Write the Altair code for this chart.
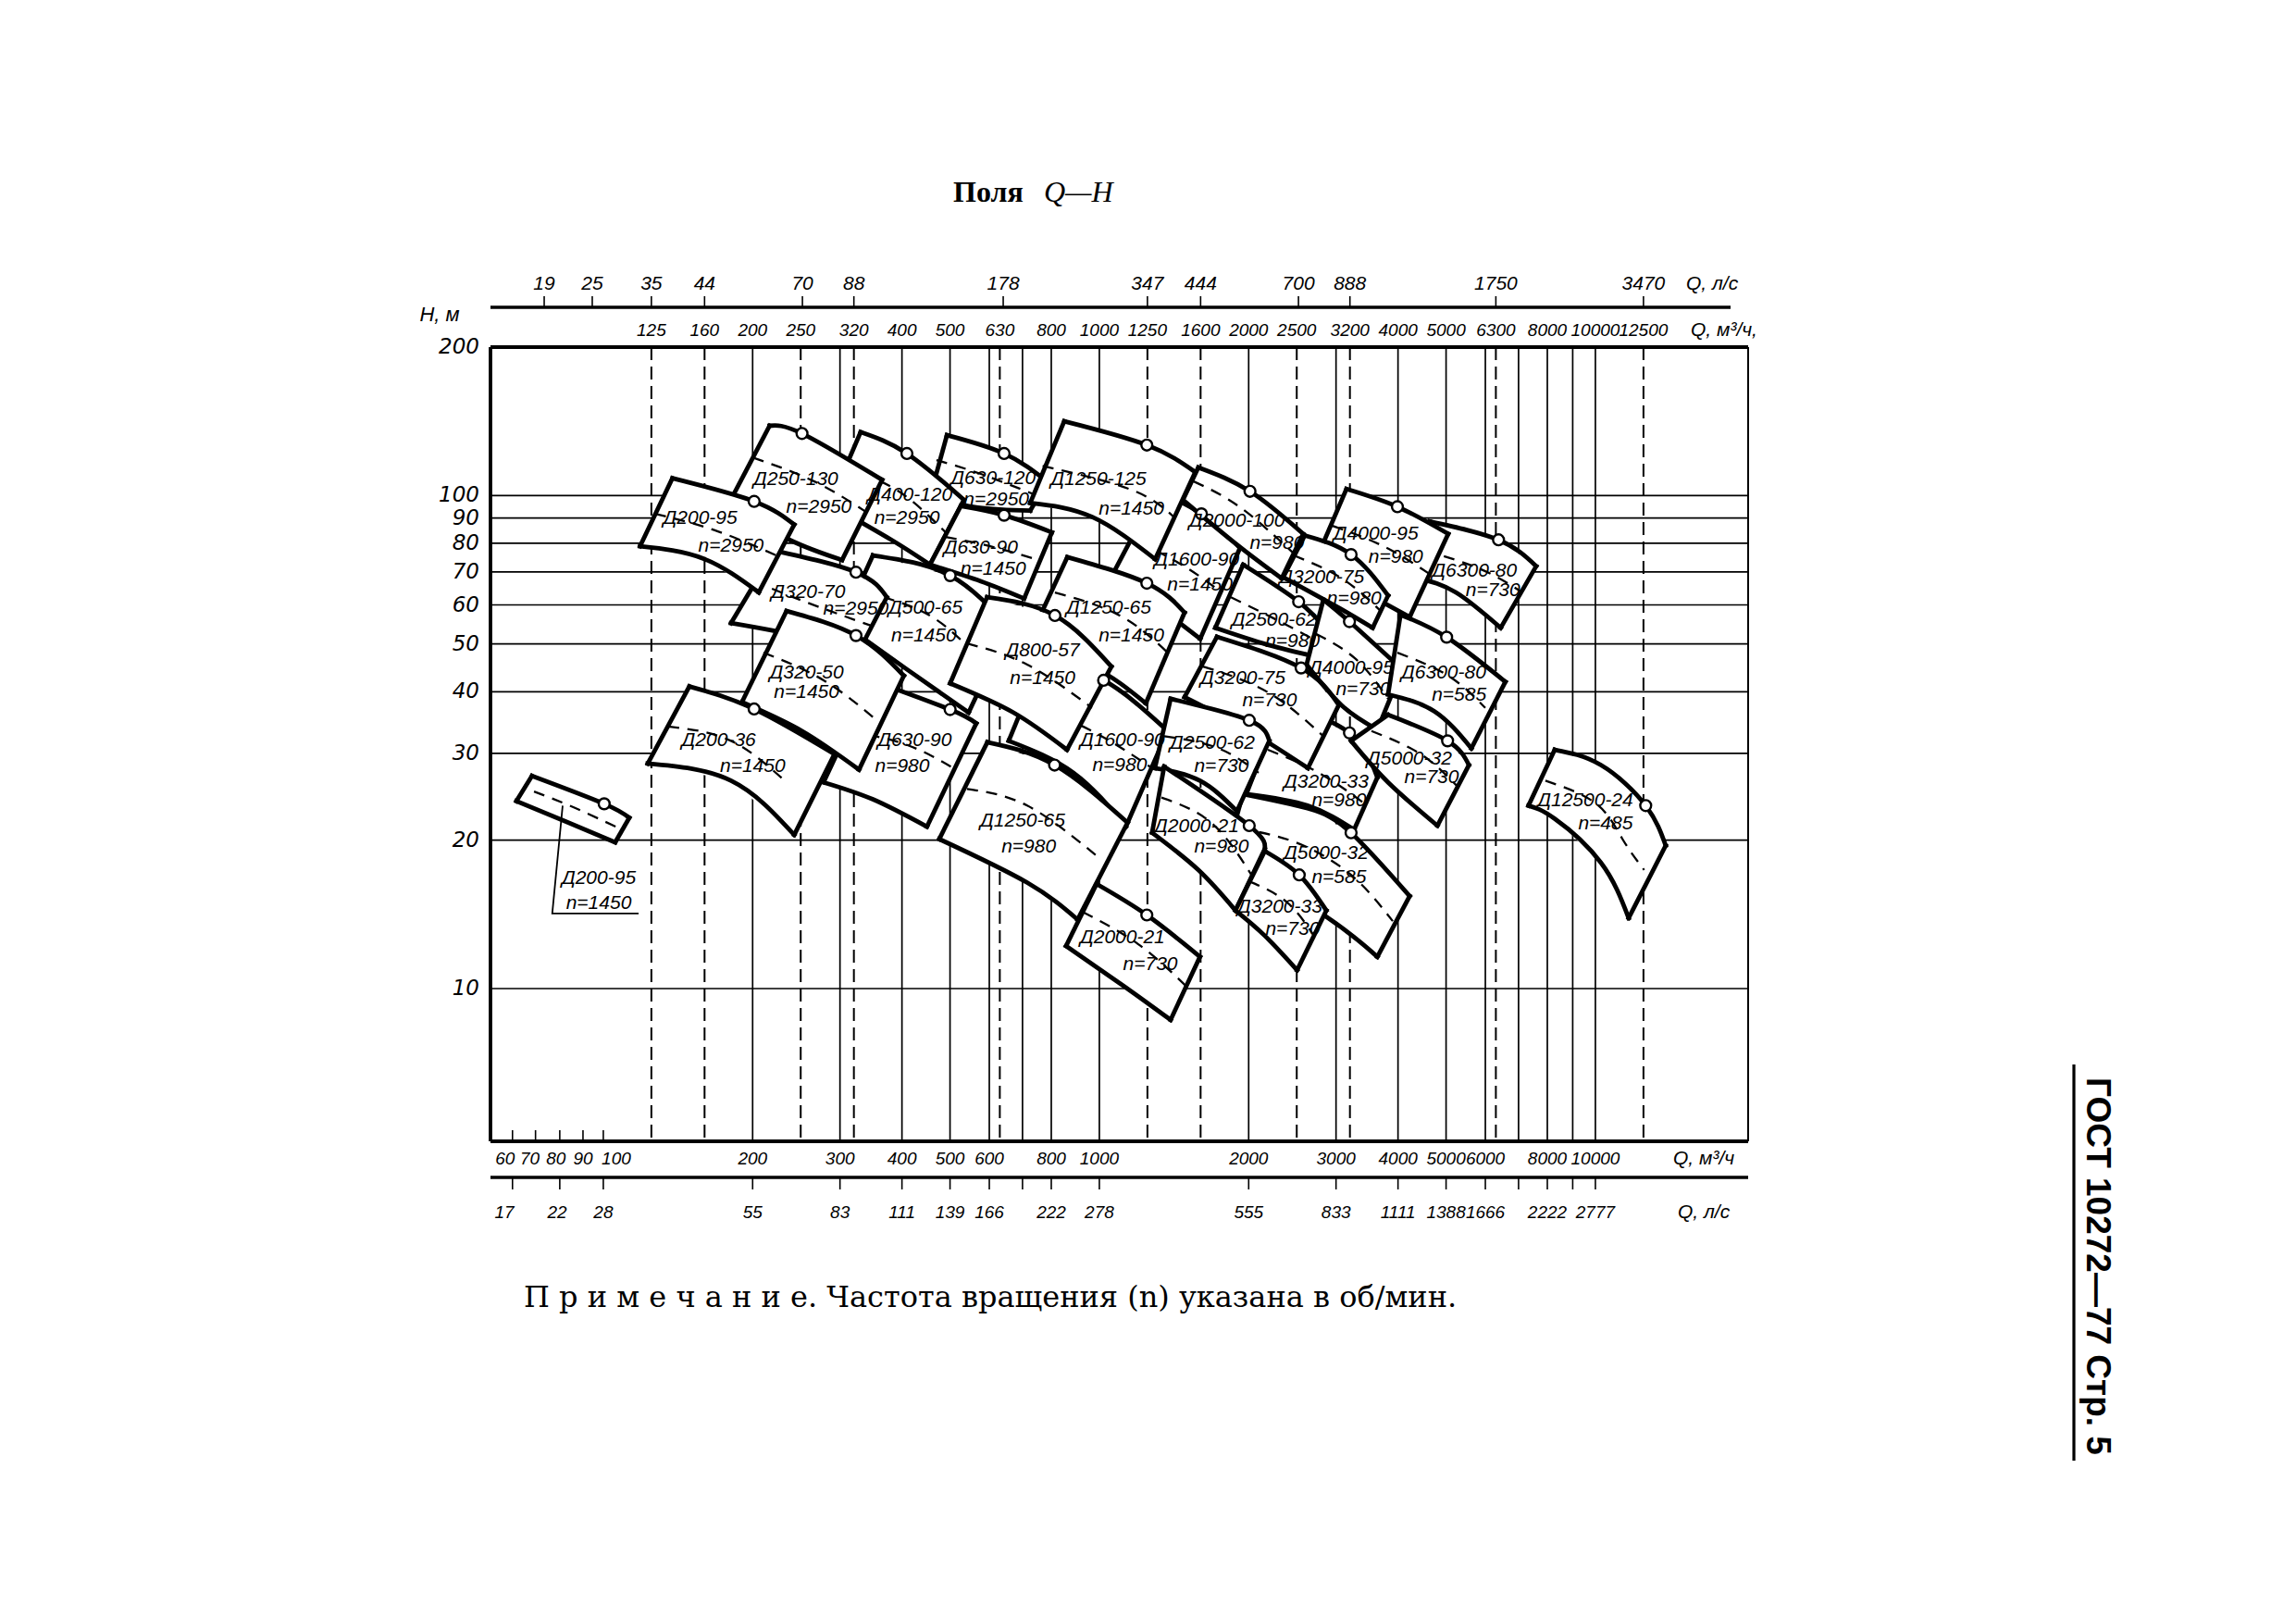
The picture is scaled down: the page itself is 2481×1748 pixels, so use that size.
import altair as alt
import pandas as pd

W, H = 1359, 858
X_DOMAIN = [59.23, 20320]
Y_DOMAIN = [4.90, 200]

# ---------------- pump fields (drawing order: later fields cover earlier) ----------------
FIELD_NAMES = ["Д630-120", "Д400-120", "Д250-130", "Д630-90", "Д500-65", "Д320-70", "Д200-95",
               "Д1600-90", "Д2000-100", "Д1250-125", "Д630-90", "Д320-50", "Д200-36", "Д1250-65",
               "Д1600-90", "Д800-57", "Д1250-65", "Д2000-21", "Д6300-80", "Д4000-95", "Д3200-75",
               "Д2500-62", "Д4000-95", "Д6300-80", "Д5000-32", "Д3200-33", "Д5000-32", "Д3200-75",
               "Д2500-62", "Д2000-21", "Д3200-33", "Д12500-24", "Д200-95"]
FIELD_SPEEDS = ["n=2950", "n=2950", "n=2950", "n=1450", "n=1450", "n=2950", "n=2950",
                "n=1450", "n=980", "n=1450", "n=980", "n=1450", "n=1450", "n=1450",
                "n=980", "n=1450", "n=980", "n=730", "n=730", "n=980", "n=980",
                "n=980", "n=730", "n=585", "n=585", "n=980", "n=730", "n=730",
                "n=730", "n=980", "n=730", "n=485", "n=1450"]

TOP_Q = [[492.9, 642.6, 785.2], [330.1, 409.3, 533.3], [216.4, 251.5, 364.8], [525.6, 642.6, 802.3],
         [349.5, 500.2, 656.6], [221.1, 323.1, 372.8], [137.8, 201.4, 242.6], [1305, 1606, 1921],
         [1583, 2012, 2576], [849.5, 1246.5, 1561], [347.1, 500.2, 564.8], [234, 323.1, 403.5],
         [149.1, 201.4, 292.4], [861.7, 1246.5, 1485], [763, 1020, 1373], [593.8, 813.6, 1057.5],
         [594.6, 812.3, 1140], [987.2, 1246.5, 1595], [4634, 6378, 7597], [3148, 3989, 5050],
         [2595, 3217, 3820], [1949, 2522, 2868], [2829, 3193, 4076], [4046, 5013, 6584],
         [1946, 2629, 3217, 4223], [2331, 3193, 3634], [3820, 5035, 5559], [1726, 2551, 3039],
         [1392, 2005, 2201], [1351, 2005, 2155], [2155, 2529, 2868], [8279, 10260, 12630, 13860],
         [71.8, 100.4, 112.8]]
TOP_H = [[132.6, 121.7, 106.8], [134.5, 121.7, 98.0], [138.5, 133.6, 107.6], [95.2, 91.2, 84.2],
         [75.6, 68.8, 53.9], [77.3, 69.9, 62.2], [108.4, 97.3, 87.3], [102.3, 91.8, 78.3],
         [114, 102, 83.6], [141.5, 126.6, 111.6], [42.2, 36.8, 34.5], [58.3, 52.0, 43.1],
         [41.0, 36.9, 29.9], [75.0, 66.4, 57.9], [46.0, 42.2, 33.3], [62.2, 57.1, 45.0],
         [31.6, 28.4, 21.7], [16.3, 14.1, 11.6], [88.6, 81.3, 71.9], [103.1, 94.9, 83.6],
         [83.0, 75.9, 62.7], [72.4, 60.9, 53.5], [61.5, 55.5, 44.4], [57.3, 51.6, 41.9],
         [24.8, 23.2, 20.7, 15.4], [37.9, 33.0, 26.8], [35.9, 31.8, 28.4], [51.7, 44.7, 37.6],
         [38.7, 35.0, 31.8], [28.2, 21.4, 19.2], [19.0, 17.0, 14.4], [30.5, 28.4, 23.5, 19.5],
         [27.0, 23.7, 22.2]]
BOT_Q = [[455.6, 568.9, 725.5], [286.1, 380.9, 455.6], [178.4, 237.4, 302.9], [455.6, 576.9, 705.3],
         [302.9, 409.3, 545], [180.9, 251.5, 325.5], [118.6, 159.1, 205.8], [1053, 1305, 1597],
         [1474, 1894, 2331], [725.5, 966.3, 1295.8], [278, 349.5, 449.2], [190.3, 251.5, 327.7],
         [122.9, 180.9, 242.6], [709.2, 966.3, 1241], [656.6, 886.7, 1131], [500.2, 670.8, 860.5],
         [475.6, 715.4, 904], [856.8, 1123, 1392], [4407, 5233, 6443], [2708, 3430, 4223],
         [2348, 3039, 3556], [1713, 2186, 2768], [2617, 3082, 3634], [3820, 4736, 5623],
         [1801, 2865, 3634], [1978, 2629, 3263], [3217, 3820, 4803], [1485, 2005, 2633],
         [1294, 1595, 1894], [1277.5, 1583, 1881], [1881, 2155, 2504], [7330, 8279, 10260, 11670],
         [66.8, 84.2, 105.7]]
BOT_H = [[99.4, 94.5, 93.2], [95.9, 81.3, 72.4], [95.6, 81.3, 74.0], [72.4, 67.0, 61.8],
         [55.1, 44.4, 36.3], [55.1, 51.7, 47.7], [78.9, 74.5, 63.6], [67.9, 59.6, 51.2],
         [98, 79.5, 67.9], [96.6, 90.5, 74.3], [26.2, 24.2, 21.3], [38.1, 33.3, 27.8],
         [28.6, 26.4, 20.5], [49.1, 45.0, 37.9], [31.8, 27.4, 21.3], [41.6, 36.3, 30.5],
         [20.1, 16.4, 13.8], [12.2, 10.1, 8.64], [67.9, 63.6, 53.9], [72.4, 63.6, 56.7],
         [68.3, 59.2, 53.9], [53.9, 49.8, 47.0], [45.4, 37.5, 33.5], [39.5, 36.5, 30.7],
         [18.6, 14.0, 11.6], [24.8, 23.5, 21.0], [31.8, 26.2, 21.4], [39.0, 33.3, 28.0],
         [28.0, 26.4, 22.9], [20.7, 17.4, 14.4], [14.4, 12.8, 10.9], [23.5, 22.1, 18.0, 13.9],
         [24.0, 21.8, 19.8]]
DASH_Q = [[469.5, 576.9, 746.7], [305.5, 392, 490], [200.3, 266.3, 338.7], [490, 602.6, 753.2],
          [367.4, 465.5, 581.9], [201.4, 255, 347.5], [127.2, 167.3, 223.3], [1198, 1485, 1763],
          [1549.6, 1921, 2465], [768.5, 1163.9, 1422.3], [313.5, 409.3, 507.3], [210.3, 278, 359.7],
          [135.1, 180.9, 234], [813.6, 1099, 1374], [715.4, 966.3, 1277.5], [541, 715.4, 966.3],
          [541, 715.4, 987.2], [925.7, 1198, 1498], [4536, 5870, 7122], [2952, 3740, 4634],
          [2465, 3082, 3692], [1841, 2281, 2804], [2733, 3287, 3820], [3989, 5050, 5998],
          [1921, 2486, 3217, 3904], [2186, 2768, 3430], [3536, 4440, 5272], [1618, 2186, 2829],
          [1351, 1726, 2094], [1334, 1689, 2049], [2005, 2382, 2708], [7929, 10040, 11340, 12540],
          [72.5, 87.2, 108]]
DASH_H = [[118, 110.6, 100.1], [114, 102.3, 84.2], [119.4, 106.8, 92.6], [82.4, 78.9, 74.0],
          [62.2, 56.3, 46.0], [67.0, 60.9, 54.4], [91.8, 85.1, 75.6], [80.7, 71.8, 63.6],
          [106.8, 94.7, 76.3], [114.8, 102.6, 89.9], [33.3, 31.2, 28.0], [48.0, 42.2, 34.7],
          [34.0, 31.8, 26.2], [63.6, 57.1, 48.0], [37.9, 33.3, 28.0], [50.1, 45.4, 37.1],
          [25.4, 23.5, 18.6], [14.3, 12.3, 10.1], [77.3, 70.9, 63.6], [86.8, 78.9, 69.3],
          [75.6, 67.9, 58.3], [62.2, 55.9, 50.1], [52.4, 46.6, 38.7], [48.0, 43.1, 37.1],
          [21.1, 19.8, 17.0, 13.7], [30.5, 27.4, 23.7], [33.3, 29.9, 25.7], [45.0, 39.9, 32.5],
          [32.5, 30.8, 27.4], [24.4, 21.6, 16.7], [16.5, 15.0, 12.8], [26.4, 23.7, 20.1, 17.4],
          [25.1, 23.3, 21.1]]
MARK_Q = [642.6, 409.3, 251.5, 642.6, 500.2, 323.1, 201.4, 1606, 2012, 1246.5, 500.2, 323.1, 201.4,
          1246.5, 1020, 813.6, 812.3, 1246.5, 6378, 3989, 3217, 2522, 3193, 5013, 3217, 3193, 5035,
          2551, 2005, 2005, 2529, 12630, 100.4]
MARK_H = [121.7, 121.7, 133.6, 91.2, 68.8, 69.9, 97.3, 91.8, 102, 126.6, 36.8, 52.0, 36.9, 66.4,
          42.2, 57.1, 28.4, 14.1, 81.3, 94.9, 75.9, 60.9, 55.5, 51.6, 20.7, 33.0, 31.8, 44.7, 35.0,
          21.4, 17.0, 23.5, 23.7]
NAME_Q = [611, 415.1, 244.3, 576.9, 446.1, 258.8, 156.8, 1572, 1894, 995.7, 424.1, 257, 170.9, 1044,
          1113, 768.5, 700, 1113, 5704, 3609, 2807, 2249, 3217, 4943, 2865, 2865, 4217, 1946, 1689,
          1570, 2311, 9539, 97.9]
NAME_H = [108.4, 100.1, 107.6, 78.4, 59.2, 63.6, 89.9, 74, 88.6, 107.8, 31.8, 43.7, 31.8, 59.2, 31.8,
          48.4, 21.9, 12.7, 70.4, 83.6, 68.3, 55.9, 44.7, 43.7, 18.8, 26.2, 29.2, 42.6, 31.4, 21.3,
          14.6, 24.0, 16.7]
SPEED_Q = [620, 409.3, 272.1, 611, 442.8, 323.1, 180.9, 1595, 2281, 1160.3, 400.6, 257, 200, 1160,
           1099, 768.5, 720.5, 1267, 6215, 3960, 3263, 2451, 3401, 5311, 3042, 3042, 4675, 2204,
           1763, 1763, 2454, 10480, 97.9]
SPEED_H = [98, 89.9, 94.5, 70.9, 52.0, 58.8, 78.9, 65.9, 80.1, 93.8, 28.2, 39.8, 28.2, 52.0, 28.3,
           42.5, 19.4, 11.2, 64.1, 75.0, 61.8, 50.5, 40.4, 39.3, 16.8, 24.0, 26.8, 38.4, 28.2, 19.4,
           13.2, 21.6, 14.9]
LEADER_Q = [82.8, 78.9, 117.8]
LEADER_H = [23.5, 14.2, 14.2]

# ---------------- grid and axes ----------------
H_GRID = [10, 20, 30, 40, 50, 60, 70, 80, 90, 100]
H_LABELS = [10, 20, 30, 40, 50, 60, 70, 80, 90, 100, 200]
Q_GRID_SOLID = [200, 300, 400, 500, 600, 700, 800, 1000, 2000, 3000, 4000, 5000, 6000, 7000, 8000,
                9000, 10000]
Q_GRID_DASHED = [125, 160, 250, 320, 630, 1250, 1600, 2500, 3200, 6300, 12500]
TOP_M3H = [125, 160, 200, 250, 320, 400, 500, 630, 800, 1000, 1250, 1600, 2000, 2500, 3200, 4000,
           5000, 6300, 8000, 10000, 12500]
TOP_LS_LABELS = ["19", "25", "35", "44", "70", "88", "178", "347", "444", "700", "888", "1750", "3470"]
TOP_LS_POS = [76, 95, 125, 160, 252, 320, 640, 1250, 1600, 2520, 3200, 6300, 12500]
BOT_M3H_LABELS = ["60", "70", "80", "90", "100", "200", "300", "400", "500", "600", "800", "1000",
                  "2000", "3000", "4000", "5000", "6000", "8000", "10000"]
BOT_M3H_POS = [63.4, 71.1, 80.3, 91.0, 106.2, 200, 300, 400, 500, 600, 800, 1000, 2000, 3000, 4000,
               5000, 6000, 8000, 10000]
INNER_TICK_Q = [65.6, 73, 81.7, 91, 100]
BOT_LS_LABELS = ["17", "22", "28", "55", "83", "111", "139", "166", "222", "278", "555", "833",
                 "1111", "1388", "1666", "2222", "2777"]
BOT_LS_POS = [63.2, 80.7, 100, 200, 300, 400, 500, 600, 800, 1000, 2000, 3000, 4000, 5000, 6000,
              8000, 10000]
BOT_TICK_Q = [65.6, 81.7, 100, 200, 300, 400, 500, 600, 700, 800, 1000, 2000, 3000, 4000, 5000,
              6000, 7000, 8000, 9000, 10000]

NARROW = "Liberation Sans, Arial, sans-serif"
SERIF = "Liberation Serif, DejaVu Serif, serif"
WIDE_SERIF = "DejaVu Serif, serif"

XS = alt.Scale(type="log", domain=X_DOMAIN, nice=False)
YS = alt.Scale(type="log", domain=Y_DOMAIN, nice=False)


def qx(field="q"):
    return alt.X(f"{field}:Q", scale=XS, axis=None)


def hy(field="h"):
    return alt.Y(f"{field}:Q", scale=YS, axis=None)


# ---------------- geometry table built from the arrays ----------------
rows = []
for i in range(len(FIELD_NAMES)):
    top = list(zip(TOP_Q[i], TOP_H[i]))
    bot = list(zip(BOT_Q[i], BOT_H[i]))
    dash = list(zip(DASH_Q[i], DASH_H[i]))
    parts = {
        "fill": top + bot[::-1],
        "top": top,
        "bot": bot,
        "left": [top[0], bot[0]],
        "right": [top[-1], bot[-1]],
        "dash": dash,
    }
    for part, pts in parts.items():
        for k, (q, h) in enumerate(pts):
            rows.append({"f": i, "part": part, "ord": k, "q": q, "h": h})
geo = pd.DataFrame(rows)

one = pd.DataFrame({"a": [0]})
layers = []

# grid
layers.append(alt.Chart(pd.DataFrame({"q": Q_GRID_SOLID})).mark_rule(color="black", strokeWidth=1.7)
              .encode(x=qx()))
layers.append(alt.Chart(pd.DataFrame({"q": Q_GRID_DASHED})).mark_rule(color="black", strokeWidth=2.0,
                                                                        strokeDash=[14, 7])
              .encode(x=qx()))
layers.append(alt.Chart(pd.DataFrame({"h": H_GRID})).mark_rule(color="black", strokeWidth=1.7)
              .encode(y=hy()))
layers.append(alt.Chart(pd.DataFrame({"q": INNER_TICK_Q})).mark_rule(color="black", strokeWidth=1.6)
              .encode(x=qx(), y=alt.value(H - 12), y2=alt.value(H)))

# pump fields
for i in range(len(FIELD_NAMES)):
    sel = f"datum.f == {i}"
    layers.append(alt.Chart(geo).transform_filter(f"{sel} && datum.part == 'fill'")
                  .mark_line(fill="white", strokeOpacity=0, interpolate="linear")
                  .encode(x=qx(), y=hy(), order="ord:Q"))
    layers.append(alt.Chart(geo).transform_filter(f"{sel} && datum.part == 'dash'")
                  .mark_line(color="black", strokeWidth=2.3, strokeDash=[12, 9], interpolate="natural")
                  .encode(x=qx(), y=hy(), order="ord:Q"))
    layers.append(alt.Chart(geo).transform_filter(
        f"{sel} && datum.part != 'fill' && datum.part != 'dash'")
                  .mark_line(color="black", strokeWidth=4.8, interpolate="natural", strokeCap="square")
                  .encode(x=qx(), y=hy(), detail="part:N", order="ord:Q"))

# leader of the small field
lead = pd.DataFrame({"q": LEADER_Q, "h": LEADER_H, "ord": [0, 1, 2]})
layers.append(alt.Chart(lead).mark_line(color="black", strokeWidth=1.8)
              .encode(x=qx(), y=hy(), order="ord:Q"))

# nominal points
marks = pd.DataFrame({"q": MARK_Q, "h": MARK_H})
layers.append(alt.Chart(marks).mark_point(shape="circle", filled=True, fill="white", stroke="black",
                                          strokeWidth=2.4, size=140, opacity=1)
              .encode(x=qx(), y=hy()))

# field labels
labels = pd.DataFrame({"q": NAME_Q + SPEED_Q, "h": NAME_H + SPEED_H, "t": FIELD_NAMES + FIELD_SPEEDS})
layers.append(alt.Chart(labels).mark_text(font=NARROW, fontSize=21, fontStyle="italic", color="black")
              .encode(x=qx(), y=hy(), text="t:N"))

# frame
layers.append(alt.Chart(one).mark_rule(color="black", strokeWidth=3.8)
              .encode(x=alt.value(0), x2=alt.value(W), y=alt.value(0)))
layers.append(alt.Chart(one).mark_rule(color="black", strokeWidth=3.8)
              .encode(x=alt.value(0), x2=alt.value(W), y=alt.value(H)))
layers.append(alt.Chart(one).mark_rule(color="black", strokeWidth=3.8)
              .encode(x=alt.value(0), y=alt.value(0), y2=alt.value(H)))
layers.append(alt.Chart(one).mark_rule(color="black", strokeWidth=2)
              .encode(x=alt.value(W), y=alt.value(0), y2=alt.value(H)))

# upper scale (l/s) line and ticks
layers.append(alt.Chart(one).mark_rule(color="black", strokeWidth=3.4)
              .encode(x=alt.value(0), x2=alt.value(1340), y=alt.value(-43)))
layers.append(alt.Chart(pd.DataFrame({"q": TOP_LS_POS})).mark_rule(color="black", strokeWidth=1.6)
              .encode(x=qx(), y=alt.value(-55), y2=alt.value(-43)))
layers.append(alt.Chart(pd.DataFrame({"q": TOP_LS_POS, "t": TOP_LS_LABELS}))
              .mark_text(font=NARROW, fontSize=21, fontStyle="italic", color="black")
              .encode(x=qx(), y=alt.value(-68), text="t:N"))
layers.append(alt.Chart(pd.DataFrame({"q": TOP_M3H, "t": [str(v) for v in TOP_M3H]}))
              .mark_text(font=NARROW, fontSize=19, fontStyle="italic", color="black")
              .encode(x=qx(), y=alt.value(-18), text="t:N"))
layers.append(alt.Chart(pd.DataFrame({"t": ["Q, л/с"]}))
              .mark_text(font=NARROW, fontSize=21, fontStyle="italic", align="left", color="black")
              .encode(x=alt.value(1292), y=alt.value(-68), text="t:N"))
layers.append(alt.Chart(pd.DataFrame({"t": ["Q, м³/ч,"]}))
              .mark_text(font=NARROW, fontSize=21, fontStyle="italic", align="left", color="black")
              .encode(x=alt.value(1297), y=alt.value(-18), text="t:N"))

# lower scales
layers.append(alt.Chart(pd.DataFrame({"q": BOT_M3H_POS, "t": BOT_M3H_LABELS}))
              .mark_text(font=NARROW, fontSize=19, fontStyle="italic", color="black")
              .encode(x=qx(), y=alt.value(877), text="t:N"))
layers.append(alt.Chart(pd.DataFrame({"t": ["Q, м³/ч"]}))
              .mark_text(font=NARROW, fontSize=21, fontStyle="italic", align="left", color="black")
              .encode(x=alt.value(1278), y=alt.value(877), text="t:N"))
layers.append(alt.Chart(one).mark_rule(color="black", strokeWidth=3.4)
              .encode(x=alt.value(0), x2=alt.value(W), y=alt.value(897)))
layers.append(alt.Chart(pd.DataFrame({"q": BOT_TICK_Q})).mark_rule(color="black", strokeWidth=1.6)
              .encode(x=qx(), y=alt.value(897), y2=alt.value(910)))
layers.append(alt.Chart(pd.DataFrame({"q": BOT_LS_POS, "t": BOT_LS_LABELS}))
              .mark_text(font=NARROW, fontSize=19, fontStyle="italic", color="black")
              .encode(x=qx(), y=alt.value(935), text="t:N"))
layers.append(alt.Chart(pd.DataFrame({"t": ["Q, л/с"]}))
              .mark_text(font=NARROW, fontSize=21, fontStyle="italic", align="left", color="black")
              .encode(x=alt.value(1283), y=alt.value(935), text="t:N"))

# H axis
layers.append(alt.Chart(pd.DataFrame({"h": H_LABELS, "t": [str(v) for v in H_LABELS]}))
              .mark_text(font="DejaVu Sans", fontSize=23, fontStyle="italic", align="right", color="black")
              .encode(x=alt.value(-12), y=hy(), text="t:N"))
layers.append(alt.Chart(pd.DataFrame({"t": ["H, м"]}))
              .mark_text(font=NARROW, fontSize=22, fontStyle="italic", color="black")
              .encode(x=alt.value(-55), y=alt.value(-35), text="t:N"))

# title, note, page header
layers.append(alt.Chart(pd.DataFrame({"t": ["Поля"]}))
              .mark_text(font=SERIF, fontSize=32, fontWeight="bold", align="left", baseline="alphabetic",
                         color="black")
              .encode(x=alt.value(500), y=alt.value(-157), text="t:N"))
layers.append(alt.Chart(pd.DataFrame({"t": ["Q—H"]}))
              .mark_text(font=SERIF, fontSize=32, fontStyle="italic", align="left", baseline="alphabetic",
                         color="black")
              .encode(x=alt.value(598), y=alt.value(-157), text="t:N"))
layers.append(alt.Chart(pd.DataFrame({"t": ["П р и м е ч а н и е.  Частота вращения (n) указана в об/мин."]}))
              .mark_text(font=WIDE_SERIF, fontSize=32, align="left", color="black")
              .encode(x=alt.value(36), y=alt.value(1027), text="t:N"))
layers.append(alt.Chart(pd.DataFrame({"t": ["ГОСТ 10272—77 Стр. 5"]}))
              .mark_text(font="Liberation Sans, Arial, sans-serif", fontSize=37, fontWeight="bold",
                         angle=90, color="black")
              .encode(x=alt.value(1736), y=alt.value(993), text="t:N"))
layers.append(alt.Chart(one).mark_rule(color="black", strokeWidth=3.2)
              .encode(x=alt.value(1711), y=alt.value(775), y2=alt.value(1203)))

chart = (alt.layer(*layers)
         .properties(width=W, height=H,
                     padding={"left": 522, "top": 367, "right": 584, "bottom": 507},
                     autosize=alt.AutoSizeParams(type="none"))
         .configure(background="white")
         .configure_view(strokeWidth=0))

chart.save("out.html", embed_options={"renderer": "svg", "actions": False})
